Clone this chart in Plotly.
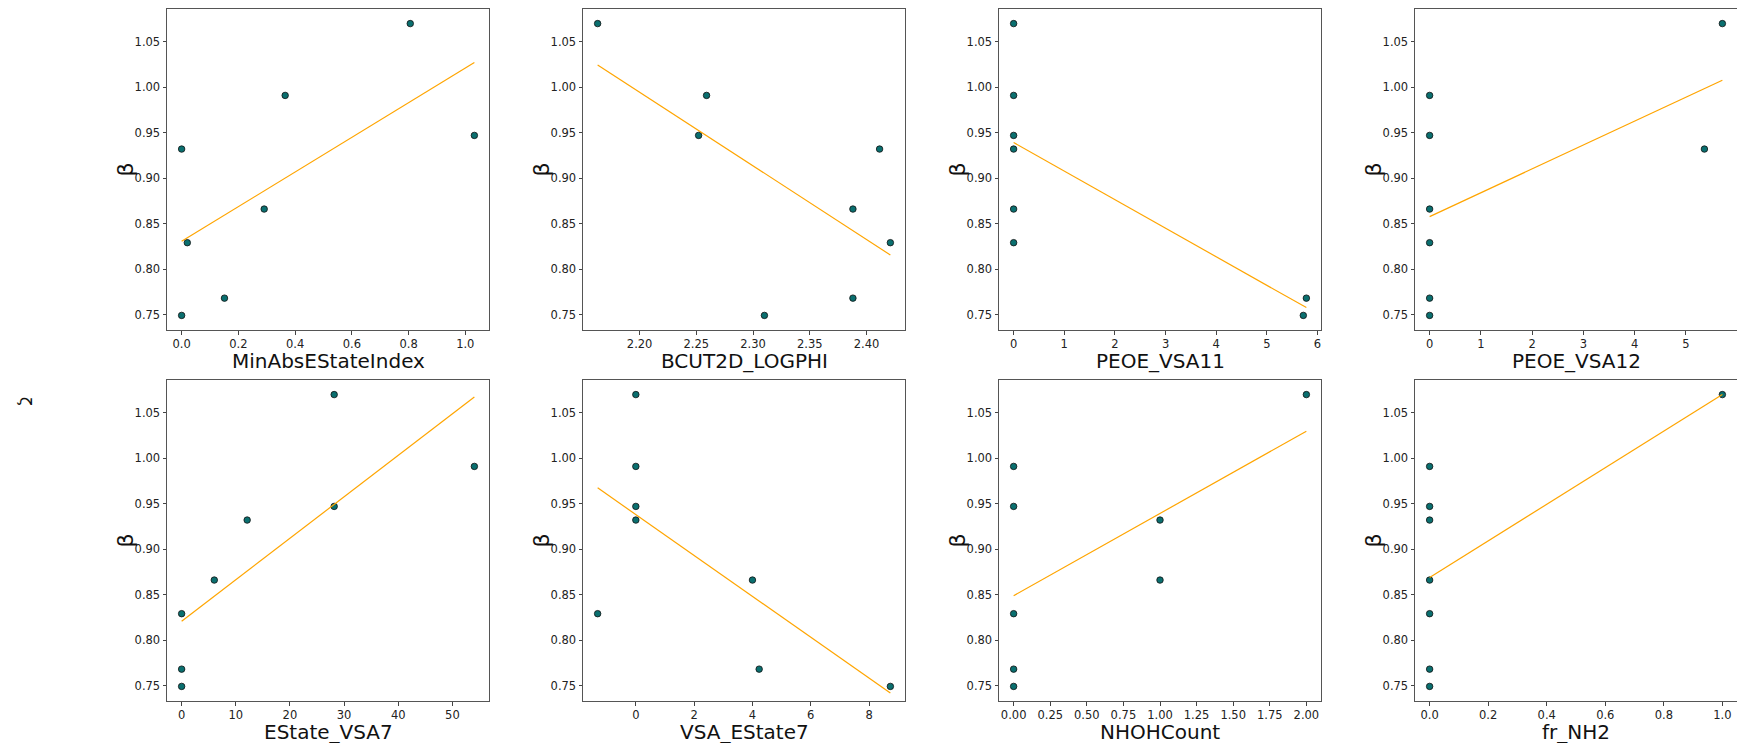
import numpy as np
import plotly.graph_objects as go

# ---- data ----
beta = [1.070, 0.991, 0.947, 0.932, 0.866, 0.829, 0.768, 0.749]

MinAbsEStateIndex = [0.806, 0.365, 1.032, 0.0, 0.291, 0.020, 0.151, 0.0]
BCUT2D_LOGPHI = [2.163, 2.259, 2.252, 2.4115, 2.388, 2.421, 2.388, 2.310]
PEOE_VSA11 = [0.0, 0.0, 0.0, 0.0, 0.0, 0.0, 5.78, 5.72]
PEOE_VSA12 = [5.71, 0.0, 0.0, 5.36, 0.0, 0.0, 0.0, 0.0]
EState_VSA7 = [28.17, 54.06, 28.17, 12.1, 6.03, 0.0, 0.0, 0.0]
VSA_EState7 = [0.0, 0.0, 0.0, 0.0, 4.0, -1.31, 4.23, 8.73]
NHOHCount = [2, 0, 0, 1, 1, 0, 0, 0]
fr_NH2 = [1, 0, 0, 0, 0, 0, 0, 0]

feature_names = ["MinAbsEStateIndex", "BCUT2D_LOGPHI", "PEOE_VSA11", "PEOE_VSA12",
                 "EState_VSA7", "VSA_EState7", "NHOHCount", "fr_NH2"]
feature_values = [MinAbsEStateIndex, BCUT2D_LOGPHI, PEOE_VSA11, PEOE_VSA12,
                  EState_VSA7, VSA_EState7, NHOHCount, fr_NH2]
x_dticks = [0.2, 0.05, 1, 1, 10, 2, 0.25, 0.2]
x_formats = [".1f", ".2f", "d", "d", "d", "d", ".2f", ".1f"]
y_tickvals = [0.75, 0.80, 0.85, 0.90, 0.95, 1.00, 1.05]
side_label = "ζ"

# ---- layout geometry (pixels) ----
W, H = 1737, 743
col_left = [167, 583, 999, 1415]
col_w = 322
row_top = [9, 380]
row_h = 321

FONT = "DejaVu Sans"


def pad_range(v):
    lo, hi = min(v), max(v)
    d = hi - lo
    return [lo - 0.05 * d, hi + 0.05 * d]


fig = go.Figure()
annotations = []
yr = pad_range(beta)

for i, (name, xv) in enumerate(zip(feature_names, feature_values)):
    r, c = divmod(i, 4)
    idx = "" if i == 0 else str(i + 1)
    xa, ya = "x" + idx, "y" + idx
    x0 = col_left[c] / W
    x1 = min((col_left[c] + col_w) / W, 1.0)
    y1 = 1 - row_top[r] / H
    y0 = 1 - (row_top[r] + row_h) / H

    fig.add_trace(go.Scatter(
        x=xv, y=beta, mode="markers", xaxis=xa, yaxis=ya, showlegend=False,
        marker=dict(size=6.5, color="#0a6f6f", line=dict(color="#111111", width=0.8)),
    ))
    xs = np.array(xv, dtype=float)
    m, b = np.polyfit(xs, np.array(beta), 1)
    xl = np.array([xs.min(), xs.max()])
    fig.add_trace(go.Scatter(
        x=xl, y=m * xl + b, mode="lines", xaxis=xa, yaxis=ya, showlegend=False,
        line=dict(color="#FFA500", width=1.2),
    ))

    axis_common = dict(
        showline=True, mirror=True, linecolor="#555555", linewidth=1,
        ticks="outside", ticklen=3.5, tickcolor="#444444", tickwidth=1,
        showgrid=False, zeroline=False,
        tickfont=dict(family=FONT, size=11.5, color="#222222"),
    )
    xr = pad_range(xv)
    fig.layout["xaxis" + idx] = dict(
        domain=[x0, x1], anchor=ya, range=xr, dtick=x_dticks[i], tick0=0,
        tickformat=x_formats[i], **axis_common,
    )
    fig.layout["yaxis" + idx] = dict(
        domain=[y0, y1], anchor=xa, range=yr, tickvals=y_tickvals,
        tickformat=".2f", **axis_common,
    )

    # x title
    annotations.append(dict(
        text=name, xref="paper", yref="paper",
        x=(col_left[c] + col_w / 2) / W,
        y=1 - (row_top[r] + row_h + 31) / H,
        xanchor="center", yanchor="middle", showarrow=False, borderpad=0,
        font=dict(family=FONT, size=20, color="#111111"),
    ))
    # y title
    annotations.append(dict(
        text="β", xref="paper", yref="paper",
        x=(col_left[c] - 42) / W,
        y=1 - (row_top[r] + row_h / 2) / H,
        xanchor="center", yanchor="middle", showarrow=False, textangle=-90,
        borderpad=0, font=dict(family=FONT, size=22, color="#111111"),
    ))

annotations.append(dict(
    text=side_label, xref="paper", yref="paper", x=26 / W, y=1 - 401 / H,
    xanchor="center", yanchor="middle", showarrow=False, textangle=90,
    font=dict(family=FONT, size=16, color="#111111"),
))

fig.update_layout(
    width=W, height=H, margin=dict(l=0, r=0, t=0, b=0),
    paper_bgcolor="white", plot_bgcolor="white",
    annotations=annotations, showlegend=False,
)

fig.write_html("out.html")
